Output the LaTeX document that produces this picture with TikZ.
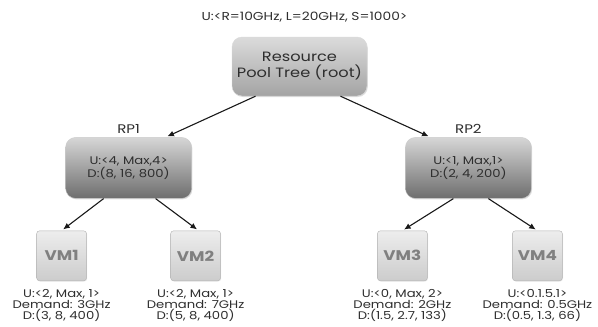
\documentclass[tikz,border=0pt]{standalone}
\usepackage{fontspec}
\setmainfont{Poppins}[FakeStretch=1.2]
\usepackage{tikz}
\usetikzlibrary{arrows.meta,positioning,shadows}
\definecolor{boxtext}{HTML}{2E2E2E}
\definecolor{vmtext}{HTML}{808080}
\tikzset{
    %Define standard arrow tip
    >={Latex[length=6.5pt,width=6pt]},
    %Define style for the root box
    rootbox/.style={
           rectangle,
           rounded corners=10pt,
           draw=white!85!black, thin,
           top color=black!14, bottom color=black!36,
           minimum width=135pt, minimum height=59pt,
           inner sep=0pt, align=center,
           text=boxtext, font=\fontsize{13.5}{16}\selectfont,
           drop shadow={opacity=0.25, shadow xshift=0.8pt, shadow yshift=-1pt}},
    %Define style for pool boxes
    poolbox/.style={
           rectangle,
           rounded corners=10pt,
           draw=white!80!black, thin,
           top color=black!16, bottom color=black!57,
           minimum width=126pt, minimum height=61pt,
           inner sep=0pt, align=center,
           text=boxtext, font=\fontsize{11}{13.5}\selectfont,
           drop shadow={opacity=0.25, shadow xshift=0.8pt, shadow yshift=-1pt}},
    %Define style for vm boxes
    vmbox/.style={
           rectangle,
           rounded corners=3pt,
           draw=black!30, thin,
           top color=black!7, bottom color=black!20,
           minimum width=50pt, minimum height=50pt,
           inner sep=0pt,
           text=vmtext, font=\fontsize{14}{16}\selectfont\bfseries,
           drop shadow={opacity=0.15, shadow xshift=0.6pt, shadow yshift=-0.8pt}},
    % Define label style
    info/.style={
           align=center, inner sep=0pt,
           text=boxtext, font=\fontsize{11}{11}\selectfont},
    % Define arrow style
    pil/.style={
           ->,
           line width=1.1pt,
           black!90,
           shorten >=2pt}
}

\begin{document}
\begin{tikzpicture}[x=1pt,y=1pt]
 \useasboundingbox (0,0) rectangle (598,-327);
 %nodes
 \node[rootbox] (root) at (299.5,-66.5) {Resource\\Pool Tree (root)};
 \node[info, font=\fontsize{11.5}{12}\selectfont, above=14pt of root, xshift=5pt] (rootinfo)
   {U:<R=10GHz, L=20GHz, S=1000>};
 \node[poolbox, below left=41pt and 40pt of root] (rp1) {U:<4, Max,4>\\D:(8, 16, 800)};
 \node[poolbox, below right=41pt and 38pt of root] (rp2) {U:<1, Max,1>\\D:(2, 4, 200)};
 \node[info, font=\fontsize{12.5}{13}\selectfont, above=4pt of rp1] (rp1name) {RP1};
 \node[info, font=\fontsize{12.5}{13}\selectfont, above=4pt of rp2] (rp2name) {RP2};
 % virtual machines
 \node[vmbox, below=32pt of rp1, xshift=-67pt] (vm1) {VM1};
 \node[vmbox, below=32pt of rp1, xshift=67pt] (vm2) {VM2};
 \node[vmbox, below=32pt of rp2, xshift=-66pt] (vm3) {VM3};
 \node[vmbox, below=32pt of rp2, xshift=69pt] (vm4) {VM4};
 \node[info, below=8pt of vm1] (vm1info) {U:<2, Max, 1>\\Demand: 3GHz\\D:(3, 8, 400)};
 \node[info, below=8pt of vm2] (vm2info) {U:<2, Max, 1>\\Demand: 7GHz\\D:(5, 8, 400)};
 \node[info, below=8pt of vm3] (vm3info) {U:<0, Max, 2>\\Demand: 2GHz\\D:(1.5, 2.7, 133)};
 \node[info, below=8pt of vm4] (vm4info) {U:<0.1.5.1>\\Demand: 0.5GHz\\D:(0.5, 1.3, 66)};
 % arrows
 \draw[pil] ([xshift=-44pt]root.south) -- ([xshift=37pt]rp1.north);
 \draw[pil] ([xshift=41pt]root.south) -- ([xshift=-38pt]rp2.north);
 \draw[pil] ([xshift=-25pt]rp1.south) -- (vm1.north);
 \draw[pil] ([xshift=27pt]rp1.south) -- ([xshift=3pt]vm2.north);
 \draw[pil] ([xshift=-15pt]rp2.south) -- (vm3.north);
 \draw[pil] ([xshift=20pt]rp2.south) -- (vm4.north);
\end{tikzpicture}
\end{document}
